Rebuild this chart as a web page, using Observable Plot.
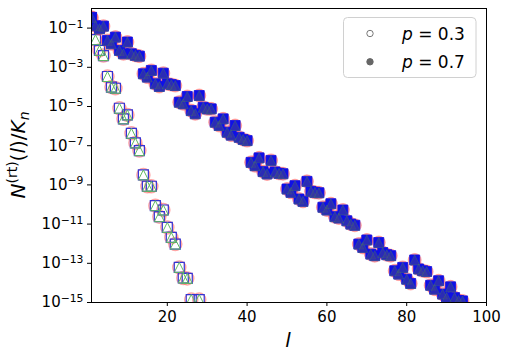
<!DOCTYPE html>
<html><head><meta charset="utf-8">
<script src="https://cdn.jsdelivr.net/npm/d3@7"></script>
<script src="https://cdn.jsdelivr.net/npm/@observablehq/plot@0.6"></script>
<style>
html,body{margin:0;padding:0;background:#fff;}
#chart{position:relative;width:510px;height:360px;}
</style></head><body><div id="chart"></div>
<script>
// ---- data (values stored as log10 exponents) ----
const lP03 = [1,2,3,4,5,6,7,8,9,10,11,12,13,14,15,16,17,18,19,20,21,22,23,24,25,26,28];
const expP03 = [-0.48,-1.59,-2.14,-2.40,-3.47,-4.01,-4.07,-5.09,-5.63,-5.43,-6.37,-6.86,-7.25,-8.49,-9.07,-9.07,-10.06,-10.62,-10.28,-11.17,-11.68,-12.02,-13.21,-13.75,-13.77,-14.85,-14.85];
const lP07 = [1,2,3,4,5,6,7,8,9,10,11,12,13,14,15,16,17,18,19,20,21,22,23,24,25,26,27,28,29,30,31,32,33,34,35,36,37,38,39,40,41,42,43,44,45,46,47,48,49,50,51,52,53,54,55,56,57,58,59,60,61,62,63,64,65,66,67,68,69,70,71,72,73,74,75,76,77,78,79,80,81,82,83,84,85,86,87,88,89,90,91,92,93,94];
const expP07 = [-0.45,-0.88,-1.03,-0.90,
  -1.63,-1.80,-1.46,-2.14,-2.31,-1.71,-2.31,-2.39,-2.43,
  -3.33,-3.50,-3.16,-3.84,-3.98,-3.30,-3.84,-3.88,-3.93,
  -4.78,-4.86,-4.49,-5.21,-5.37,-4.44,-5.04,-5.12,-5.12,
  -5.80,-5.97,-5.63,-6.31,-6.46,-5.97,-6.57,-6.68,-6.74,
  -7.85,-8.02,-7.62,-8.32,-8.44,-7.75,-8.34,-8.41,-8.43,
  -9.21,-9.38,-9.04,-9.72,-9.84,-8.82,-9.33,-9.38,-9.40,
  -10.14,-10.28,-9.96,-10.62,-10.69,-10.28,-10.83,-11.00,-11.06,
  -12.02,-12.19,-11.81,-12.53,-12.61,-11.94,-12.45,-12.56,-12.61,
  -13.38,-13.55,-13.21,-13.81,-14.03,-12.83,-13.29,-13.38,-13.42,
  -14.12,-14.32,-13.89,-14.57,-14.75,-14.20,-14.75,-14.90,-14.92];
const xTickValues = [20, 40, 60, 80, 100];
const yTickExponents = [-1, -3, -5, -7, -9, -11, -13, -15];
const legendValues = ["0.3", "0.7"];

const p03 = lP03.map((l, i) => ({l, v: Math.pow(10, expP03[i])}));
const p07 = lP07.map((l, i) => ({l, v: Math.pow(10, expP07[i])}));

const squareSym = {draw(ctx, size) { const r = Math.sqrt(size / Math.PI);
  ctx.moveTo(-r, -r); ctx.lineTo(r, -r); ctx.lineTo(r, r); ctx.lineTo(-r, r); ctx.closePath(); }};
const triSym = {draw(ctx, size) { const r = Math.sqrt(size / Math.PI);
  ctx.moveTo(0, -r); ctx.lineTo(r, r); ctx.lineTo(-r, r); ctx.closePath(); }};

const plot = Plot.plot({
  width: 510, height: 360,
  marginLeft: 91, marginRight: 24, marginTop: 8, marginBottom: 58,
  style: {fontFamily: "DejaVu Sans", fontSize: "15px", color: "black", background: "white"},
  x: {domain: [1, 100], ticks: xTickValues, tickSize: 4, tickPadding: 5, label: null},
  y: {type: "log", domain: [1e-15, 1], ticks: yTickExponents.map(e => Math.pow(10, e)),
      tickFormat: v => "10^" + Math.round(Math.log10(v)), tickSize: 4, tickPadding: 4, label: null},
  marks: [
    Plot.dot(p03, {x: "l", y: "v", r: 6.5, fill: "none", stroke: "#ff6b6b", strokeOpacity: 0.6, strokeWidth: 1.5, clip: true}),
    Plot.dot(p03, {x: "l", y: "v", r: 5, symbol: squareSym, fill: "none", stroke: "#3434d4", strokeWidth: 1.2, clip: true}),
    Plot.dot(p03, {x: "l", y: "v", r: 5, symbol: triSym, fill: "none", stroke: "#62b862", strokeWidth: 1.0, clip: true}),
    Plot.dot(p07, {x: "l", y: "v", r: 6.5, fill: "#ff5a5a", fillOpacity: 0.55, stroke: "#ff6b6b", strokeOpacity: 0.5, strokeWidth: 1, clip: true}),
    Plot.dot(p07, {x: "l", y: "v", r: 5, symbol: squareSym, fill: "#1010e6", stroke: "#1010e6", strokeWidth: 0.8, clip: true}),
    Plot.dot(p07, {x: "l", y: "v", r: 5, symbol: triSym, fill: "#3e3e96", fillOpacity: 0.6, stroke: "#4f8f4f", strokeOpacity: 0.4, strokeWidth: 0.8, clip: true}),
    Plot.frame({stroke: "black", strokeWidth: 1})
  ]
});
document.getElementById("chart").appendChild(plot);

const svg = d3.select(plot);
svg.selectAll("text").each(function() {
  const t = this.textContent;
  if (t.startsWith("10^")) {
    const e = t.slice(3).replace("-", "\u2212");
    const s = d3.select(this);
    s.text("");
    s.append("tspan").text("10");
    s.append("tspan").attr("dy", "-0.5em").attr("font-size", "0.72em").text(e);
  }
});

// y-axis label
const yl = svg.append("text")
  .attr("transform", "translate(25,155) rotate(-90)")
  .attr("text-anchor", "middle")
  .attr("font-family", "DejaVu Sans").attr("font-size", 20).attr("fill", "black");
yl.append("tspan").attr("font-style", "italic").text("N");
yl.append("tspan").attr("font-size", 14).attr("dy", -8).text("(rt)");
yl.append("tspan").attr("dy", 8).text("(");
yl.append("tspan").attr("font-style", "italic").text("l");
yl.append("tspan").text(")/");
yl.append("tspan").attr("font-style", "italic").text("K");
yl.append("tspan").attr("font-style", "italic").attr("font-size", 14).attr("dy", 4).text("n");

// x-axis label
svg.append("text").attr("x", 288).attr("y", 347).attr("text-anchor", "middle")
  .attr("font-family", "DejaVu Sans").attr("font-size", 20).attr("font-style", "italic")
  .attr("fill", "black").text("l");

// legend
const lg = svg.append("g");
lg.append("rect").attr("x", 343.5).attr("y", 17.5).attr("width", 132.5).attr("height", 60)
  .attr("rx", 4).attr("fill", "white").attr("fill-opacity", 0.8).attr("stroke", "#d0d0d0");
legendValues.forEach((val, i) => {
  const cy = 33.5 + i * 28.3;
  lg.append("circle").attr("cx", 370).attr("cy", cy).attr("r", 3.2)
    .attr("fill", i === 0 ? "white" : "#666").attr("stroke", i === 0 ? "#777" : "#666");
  const t = lg.append("text").attr("x", 402).attr("y", cy + 6).attr("text-anchor", "start")
    .attr("font-family", "DejaVu Sans").attr("font-size", 17).attr("fill", "black");
  t.append("tspan").attr("font-style", "italic").text("p");
  t.append("tspan").text(" = " + val);
});
</script></body></html>
